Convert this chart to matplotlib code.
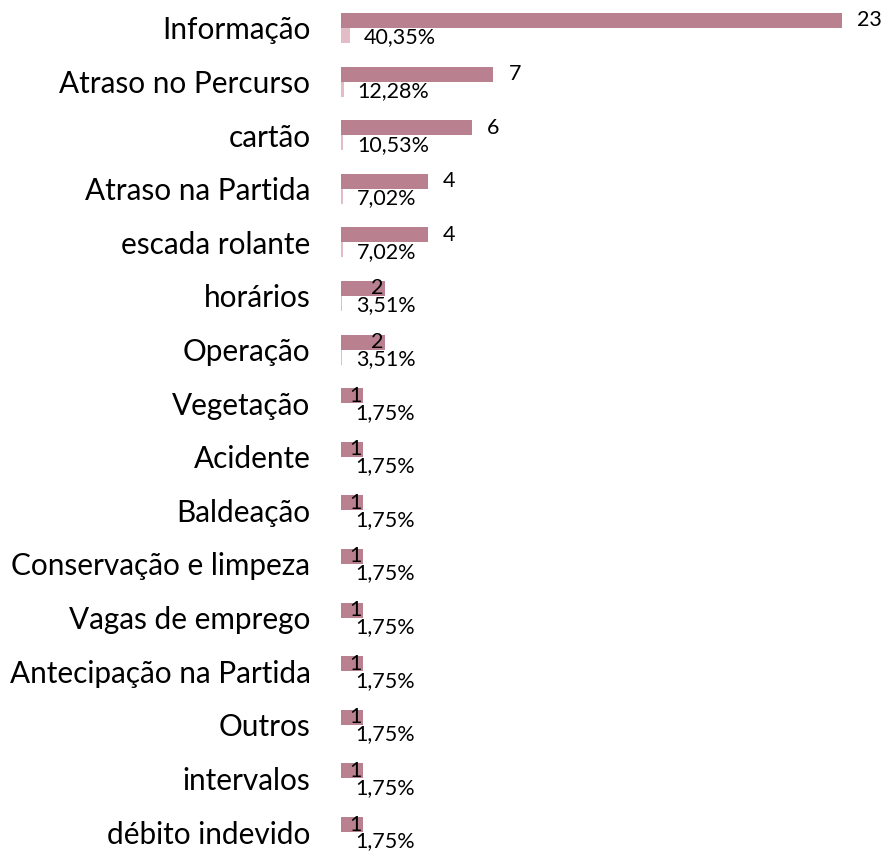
import matplotlib
matplotlib.use('Agg')
import matplotlib.pyplot as plt
from matplotlib import transforms

categories = ['Informação', 'Atraso no Percurso', 'cartão', 'Atraso na Partida',
              'escada rolante', 'horários', 'Operação', 'Vegetação', 'Acidente',
              'Baldeação', 'Conservação e limpeza', 'Vagas de emprego',
              'Antecipação na Partida', 'Outros', 'intervalos', 'débito indevido']
counts = [23, 7, 6, 4, 4, 2, 2, 1, 1, 1, 1, 1, 1, 1, 1, 1]
percents = [40.35, 12.28, 10.53, 7.02, 7.02, 3.51, 3.51, 1.75, 1.75, 1.75,
            1.75, 1.75, 1.75, 1.75, 1.75, 1.75]

plt.rcParams['font.family'] = ['Lato', 'DejaVu Sans']

fig = plt.figure(figsize=(8.87, 8.52), dpi=100)
ax = fig.add_axes([341 / 887, 0, (842 - 341) / 887, 1])

y = list(range(len(categories)))
h = 0.28
count_color = '#b9808f'
pct_color = '#e2bcc7'

ax.barh([i - h / 2 for i in y], counts, height=h, color=count_color)
ax.barh([i + h / 2 for i in y], [p / 100 for p in percents], height=h, color=pct_color)

# labels offset in pixels from bar end (small values sit on the bar end, like the original)
for i, (c, p) in enumerate(zip(counts, percents)):
    dx = 15 if c >= 4 else -7
    tr = ax.transData + transforms.ScaledTranslation(dx / 100, 0, fig.dpi_scale_trans)
    ax.text(c, i - h / 2, str(c), transform=tr, ha='left' if c >= 4 else 'center',
            va='center', fontsize=15.5, clip_on=False)
    tr2 = ax.transData + transforms.ScaledTranslation(14 / 100, -2 / 100, fig.dpi_scale_trans)
    ax.text(p / 100, i + h / 2, f'{p:.2f}%'.replace('.', ','), transform=tr2,
            ha='left', va='center', fontsize=15.5, clip_on=False)

ax.set_yticks(y)
ax.set_yticklabels(categories, fontsize=21.4)
ax.tick_params(axis='y', length=0, pad=22)
ax.set_xticks([])
ax.set_xlim(0, 23)
ax.set_ylim(15.373, -0.522)
for s in ax.spines.values():
    s.set_visible(False)
ax.patch.set_alpha(0)

fig.savefig('out.png', dpi=100)
